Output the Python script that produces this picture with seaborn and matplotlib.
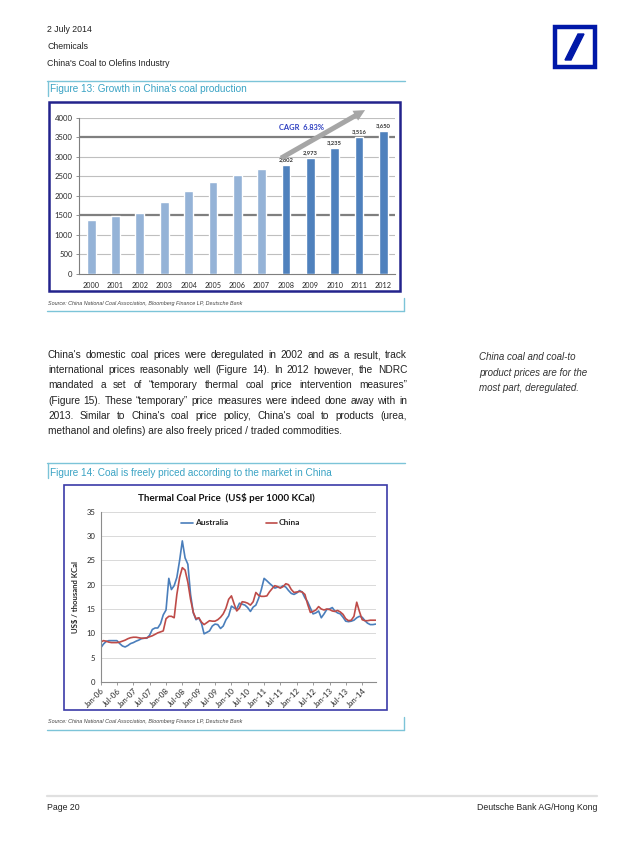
import numpy as np
import pandas as pd
import matplotlib
matplotlib.use("Agg")
import matplotlib.pyplot as plt
import matplotlib.dates as mdates
from matplotlib.lines import Line2D
from matplotlib.patches import Rectangle, Polygon
import seaborn as sns

# ---- data: figure 13 (coal production, mn t)
years = [str(y) for y in range(2000, 2013)]
production = [1384, 1472, 1550, 1835, 2123, 2350, 2529, 2692, 2802, 2973, 3235, 3516, 3650]
phase = ["early"] * 8 + ["late"] * 5
bar_labels = [""] * 8 + ["2,802", "2,973", "3,235", "3,516", "3,650"]

# ---- data: figure 14 (thermal coal price, US$ per 1000 kcal), monthly Jan-06 .. Jun-14
months = pd.date_range("2006-01-01", periods=102, freq="MS")
australia = [7.0, 7.8, 8.3, 8.5, 8.5, 8.5, 8.5, 7.9, 7.4, 7.2, 7.5, 7.9,
             8.1, 8.4, 8.6, 8.9, 9.0, 9.0, 9.6, 10.8, 11.1, 11.1, 12.0, 13.8,
             14.8, 21.3, 19.0, 19.8, 21.5, 25.0, 29.0, 25.5, 24.2, 18.0, 14.2, 12.8,
             13.2, 12.0, 9.9, 10.2, 10.5, 11.5, 11.9, 11.8, 11.0, 11.5, 12.8, 13.6,
             15.6, 15.2, 15.0, 16.2, 16.0, 15.8, 15.3, 14.5, 15.4, 15.8, 17.2, 19.0,
             21.3, 20.8, 20.3, 19.8, 19.3, 19.5, 19.4, 19.8, 19.5, 18.8, 18.2, 18.0,
             18.3, 18.8, 18.5, 17.3, 16.5, 15.2, 14.0, 14.2, 14.6, 13.2, 14.0, 14.9,
             15.0, 15.3, 14.6, 14.2, 14.0, 13.3, 12.5, 12.4, 12.5, 12.7, 13.2, 13.5,
             13.3, 12.6, 12.1, 11.8, 11.8, 11.9]
china = [8.2, 8.5, 8.4, 8.2, 8.1, 8.1, 8.1, 8.2, 8.4, 8.6, 8.9, 9.1,
         9.2, 9.2, 9.1, 9.0, 9.0, 9.1, 9.3, 9.5, 9.8, 10.1, 10.3, 10.5,
         13.0, 13.5, 13.5, 13.2, 18.0, 21.5, 23.5, 23.0, 20.5, 17.0, 14.3, 13.0,
         13.2, 12.3, 11.8, 12.2, 12.6, 12.5, 12.5, 12.8, 13.3, 14.0, 15.2, 17.0,
         17.7, 16.0, 14.6, 15.2, 16.5, 16.4, 16.2, 15.8, 16.5, 18.4, 17.8, 17.6,
         17.6, 17.7, 18.5, 19.2, 19.8, 19.6, 19.3, 19.6, 20.2, 20.0, 19.0, 18.4,
         18.5, 18.6, 18.5, 18.0, 16.0, 14.3, 14.5, 14.8, 15.5, 15.0, 14.8, 15.0,
         14.9, 14.6, 14.5, 14.7, 14.4, 13.9, 13.0, 12.6, 12.7, 13.5, 16.4, 14.5,
         12.8, 12.6, 12.6, 12.7, 12.7, 12.7]

W, H = 639, 850
TEAL = "#7CC4D8"
TEAL_TXT = "#3AA3C4"
NAVY = "#23238C"
DOC_FONT = "Liberation Sans"
CHART_FONT = "Lato"


def rect(x0, y0, x1, y1):
    # page pixel box (origin top-left) -> figure fraction rect
    return [x0 / W, 1 - y1 / H, (x1 - x0) / W, (y1 - y0) / H]


def fx(x):
    return x / W


def fy(y):
    return 1 - y / H


def hline(x0, x1, y, color, lw):
    fig.add_artist(Line2D([fx(x0), fx(x1)], [fy(y), fy(y)], color=color, lw=lw))


def vline(x, y0, y1, color, lw):
    fig.add_artist(Line2D([fx(x), fx(x)], [fy(y0), fy(y1)], color=color, lw=lw))


sns.set_theme(style="white")
plt.rcParams["font.family"] = [DOC_FONT, "DejaVu Sans"]

fig = plt.figure(figsize=(W / 100, H / 100), dpi=100)
fig.patch.set_facecolor("white")

# ---- page header
for i, t in enumerate(["2 July 2014", "Chemicals", "China's Coal to Olefins Industry"]):
    fig.text(fx(47), fy(30 + i * 16.5), t, fontsize=6.3, color="#222222", va="center")

# Deutsche Bank logo
fig.add_artist(Rectangle((fx(554.5), fy(67)), fx(40), 39.5 / H, fill=False,
                         edgecolor="#0018A8", lw=3.2, transform=fig.transFigure))
fig.add_artist(Polygon([(fx(565), fy(60)), (fx(571), fy(60)), (fx(584), fy(34)), (fx(578), fy(34))],
                       closed=True, color="#0018A8", transform=fig.transFigure))

# ---- figure 13 frame / title
hline(47, 405, 80.5, TEAL, 1.0)
vline(47.5, 80.5, 96, TEAL, 1.0)
fig.text(fx(50), fy(89.5), "Figure 13: Growth in China's coal production", fontsize=7.2,
         color=TEAL_TXT, va="center")
fig.add_artist(Rectangle((fx(49), fy(291)), (400 - 49) / W, (291 - 102.5) / H, fill=False,
                         edgecolor=NAVY, lw=1.8, transform=fig.transFigure))

ax1 = fig.add_axes(rect(79, 117.7, 395.5, 274))
sns.barplot(x=years, y=production, hue=phase, palette={"early": "#95B3D7", "late": "#4F81BD"},
            dodge=False, width=0.36, legend=False, saturation=1, ax=ax1, zorder=3)
ax1.set_ylim(0, 4000)
ax1.set_xlim(-0.5, len(years) - 0.5)
ax1.set_yticks(range(0, 4001, 500))
for v in range(500, 4001, 500):
    strong = v in (1500, 3500)
    ax1.axhline(v, color="#7F7F7F" if strong else "#BFBFBF", lw=1.6 if strong else 0.8, zorder=1)
ax1.set_xlabel("")
ax1.set_ylabel("")
for s in ["top", "right"]:
    ax1.spines[s].set_visible(False)
for s in ["left", "bottom"]:
    ax1.spines[s].set_color("#7F7F7F")
    ax1.spines[s].set_linewidth(0.8)
ax1.set_xticks(np.arange(-0.5, len(years), 1.0), minor=True)
ax1.tick_params(axis="x", which="major", length=0, labelsize=5.2, pad=6)
ax1.tick_params(axis="x", which="minor", length=2.5, color="#7F7F7F", width=0.6, direction="out")
ax1.tick_params(axis="y", length=2.5, color="#7F7F7F", width=0.6, labelsize=5.6, pad=2, left=True)
for lab in ax1.get_xticklabels() + ax1.get_yticklabels():
    lab.set_family(CHART_FONT)
for i, (v, t) in enumerate(zip(production, bar_labels)):
    if t:
        ax1.text(i, v + 70, t, ha="center", va="bottom", fontsize=4.2, fontweight="bold",
                 family=CHART_FONT, color="#333333")
ax1.annotate("", xy=(11.35, 4230), xytext=(7.7, 2930), annotation_clip=False,
             arrowprops=dict(arrowstyle="simple,head_length=0.9,head_width=0.9,tail_width=0.4",
                             mutation_scale=9, color="#A6A6A6", lw=0))
ax1.text(8.65, 3750, "CAGR  6.83%", ha="center", va="center", fontsize=5.4, fontweight="bold",
         family=CHART_FONT, color="#2B3DC0")

fig.text(fx(48), fy(303), "Source: China National Coal Association, Bloomberg Finance LP, Deutsche Bank",
         fontsize=3.9, style="italic", color="#444444", va="center")
hline(47, 404, 310.5, TEAL, 1.0)
vline(403.5, 298, 310.5, TEAL, 1.0)

# ---- body text (justified)
para = ["China's domestic coal prices were deregulated in 2002 and as a result, track",
        "international prices reasonably well (Figure 14). In 2012 however, the NDRC",
        "mandated a set of \u201ctemporary thermal coal price intervention measures\u201d",
        "(Figure 15). These \u201ctemporary\u201d price measures were indeed done away with in",
        "2013. Similar to China's coal price policy, China's coal to products (urea,",
        "methanol and olefins) are also freely priced / traded commodities."]
renderer = fig.canvas.get_renderer()
for i, line in enumerate(para):
    y = fy(355 + i * 15.2)
    kw = dict(fontsize=7.3, color="#222222", va="center")
    if i == len(para) - 1:
        fig.text(fx(48), y, line, **kw)
        continue
    words = line.split(" ")
    arts = [fig.text(0, y, w, **kw) for w in words]
    widths = [a.get_window_extent(renderer).width for a in arts]
    gap = (407 - 48 - sum(widths)) / (len(words) - 1)
    x = 48
    for a, w in zip(arts, widths):
        a.set_x(fx(x))
        x += w + gap

for i, t in enumerate(["China coal and coal-to", "product prices are for the", "most part, deregulated."]):
    fig.text(fx(479), fy(357 + i * 15.5), t, fontsize=7.0, style="italic", color="#333333", va="center")

# ---- figure 14 frame / title
hline(47, 405, 463, TEAL, 1.0)
vline(47.5, 463, 478, TEAL, 1.0)
fig.text(fx(50), fy(472.5), "Figure 14: Coal is freely priced according to the market in China",
         fontsize=7.2, color=TEAL_TXT, va="center")
fig.add_artist(Rectangle((fx(63.5), fy(710)), (387.3 - 63.5) / W, (710 - 485) / H, fill=False,
                         edgecolor="#3B3BA8", lw=1.2, transform=fig.transFigure))

prices = pd.DataFrame({
    "month": np.concatenate([months, months]),
    "price": australia + china,
    "series": ["Australia"] * len(australia) + ["China"] * len(china),
})
ax2 = fig.add_axes(rect(100.7, 511.7, 375.7, 682))
sns.lineplot(data=prices, x="month", y="price", hue="series",
             palette={"Australia": "#4A7EBB", "China": "#BE4B48"}, lw=1.2, ax=ax2)
ax2.set_ylim(0, 35)
ax2.set_xlim(months[0], months[-1])
ax2.set_yticks(range(0, 36, 5))
ax2.yaxis.grid(True, color="#D9D9D9", lw=0.7)
ax2.xaxis.grid(False)
ax2.xaxis.set_major_locator(mdates.MonthLocator(bymonth=[1, 7]))
ax2.xaxis.set_major_formatter(mdates.DateFormatter("%b-%y"))
for s in ["top", "right"]:
    ax2.spines[s].set_visible(False)
for s in ["left", "bottom"]:
    ax2.spines[s].set_color("#8C8C8C")
    ax2.spines[s].set_linewidth(0.8)
ax2.tick_params(axis="x", length=2.5, color="#8C8C8C", width=0.6, labelsize=5.8, pad=1, bottom=True)
ax2.tick_params(axis="y", length=0, labelsize=5.6, pad=4)
for lab in ax2.get_xticklabels():
    lab.set_rotation(45)
    lab.set_ha("right")
    lab.set_rotation_mode("anchor")
for lab in ax2.get_xticklabels() + ax2.get_yticklabels():
    lab.set_family(CHART_FONT)
ax2.set_xlabel("")
ax2.set_ylabel("US$ / thousand KCal", fontsize=5.6, fontweight="bold", family=CHART_FONT, labelpad=5)
ax2.legend(loc="center", bbox_to_anchor=(0.51, 0.934), ncol=2, frameon=False, handlelength=1.4,
           handletextpad=0.2, columnspacing=4.5, prop=dict(family=CHART_FONT, weight="bold", size=6.0))
fig.text(fx(226), fy(498.5), "Thermal Coal Price  (US$ per 1000 KCal)", ha="center", va="center",
         fontsize=7.1, fontweight="bold", family=CHART_FONT, color="#111111")

fig.text(fx(48), fy(721), "Source: China National Coal Association, Bloomberg Finance LP, Deutsche Bank",
         fontsize=3.9, style="italic", color="#444444", va="center")
hline(47, 404, 730, TEAL, 1.0)
vline(403.5, 717, 730, TEAL, 1.0)

# ---- footer
hline(47, 597, 796, "#E0E0E0", 1.6)
fig.text(fx(47), fy(808), "Page 20", fontsize=6.3, color="#222222", va="center")
fig.text(fx(597), fy(808), "Deutsche Bank AG/Hong Kong", fontsize=6.3, color="#222222", va="center", ha="right")

fig.savefig("out.png", dpi=100, facecolor="white")
